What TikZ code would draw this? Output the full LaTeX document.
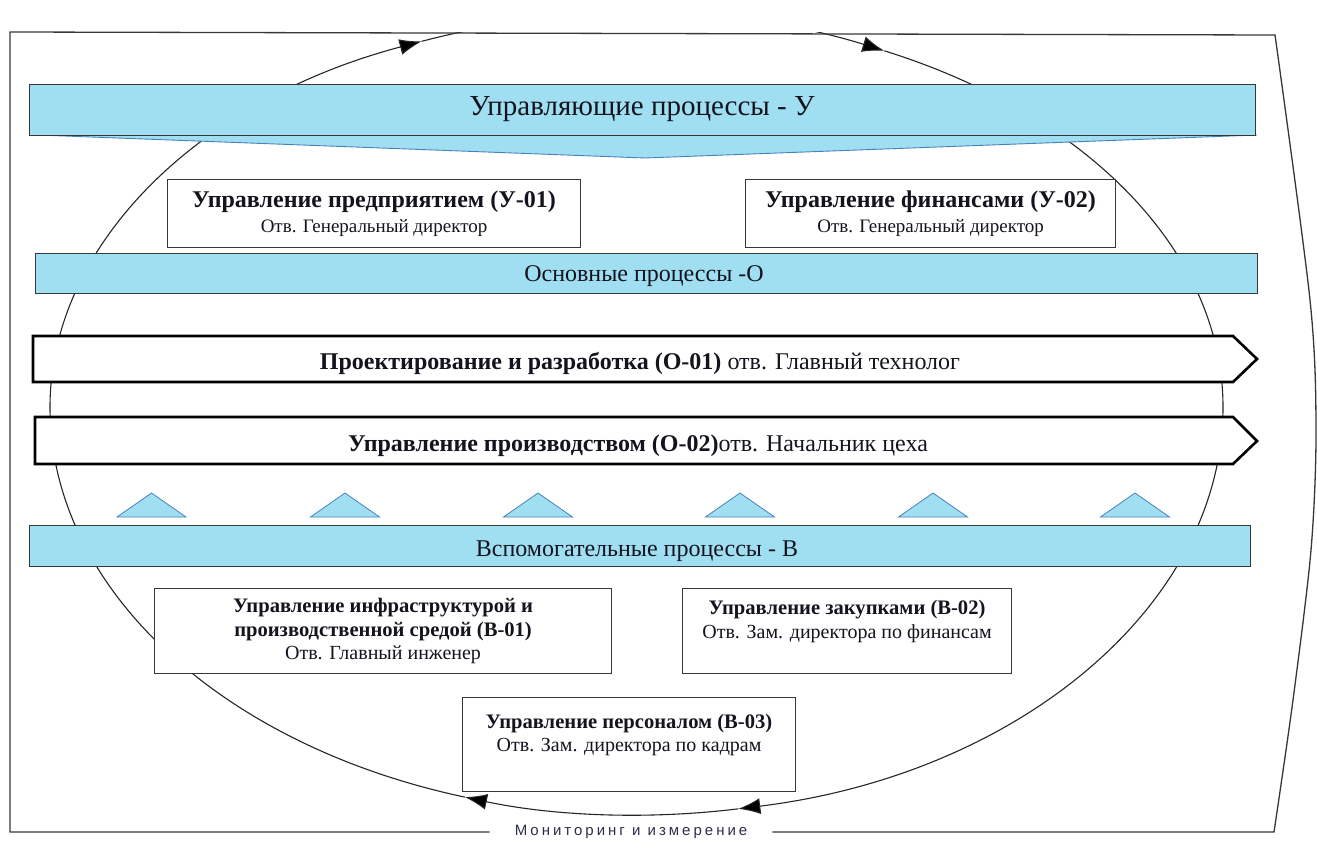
\documentclass[tikz,border=0pt]{standalone}
\usepackage{fontspec}
\setmainfont{Liberation Serif}
\newfontfamily\labelsans[LetterSpace=20]{Liberation Sans}
\usetikzlibrary{arrows.meta}
\definecolor{barblue}{RGB}{160,222,242}
\definecolor{edgeblue}{RGB}{70,130,190}
\definecolor{framegray}{RGB}{55,55,55}
\definecolor{labelink}{RGB}{45,47,72}
\definecolor{inktext}{RGB}{20,20,30}
\tikzset{
  bar/.style={draw=framegray, line width=1.1pt, fill=barblue, inner sep=0pt, anchor=north west},
  chev/.style={draw=edgeblue, line width=0.9pt, fill=barblue},
  procbox/.style={draw=framegray, line width=1.1pt, fill=white, inner sep=0pt, anchor=north west, align=center, text=inktext},
  flow/.style={draw=black, line width=2.6pt, fill=white, line join=miter},
  tri/.style={draw=edgeblue, line width=0.8pt, fill=barblue, line join=miter},
  cycline/.style={draw=black!85, line width=1.1pt},
  cyc/.style={cycline, -{Latex[length=22pt,width=16pt,fill=black]}},
  frameline/.style={draw=framegray, line width=1.3pt},
  titlefont/.style={font=\fontsize{29}{34}\selectfont, text=inktext},
  barfont/.style={font=\fontsize{24}{28}\selectfont, text=inktext},
  flowfont/.style={font=\fontsize{24}{28}\selectfont, text=inktext},
  topboxfont/.style={font=\fontsize{24}{25}\selectfont},
  lowboxfont/.style={font=\fontsize{20}{23.5}\selectfont},
}
\newcommand{\respfont}{\fontsize{19}{25}\selectfont}
\newcommand{\headfont}{\fontsize{20.6}{23.5}\selectfont\bfseries}
\begin{document}
\begin{tikzpicture}[x=1pt,y=-1pt]
\useasboundingbox (0,0) rectangle (1317,842);

% cycle of processes (clockwise), hidden above the frame
\begin{scope}[shift={(636.5,407)}]
  \clip (-700,-374) rectangle (700,500);
  \draw[cyc] (180:586.5 and 393) arc[start angle=180, end angle=248.5, x radius=586.5, y radius=393];
  \draw[cyc] (248.5:586.5 and 393) arc[start angle=248.5, end angle=295, x radius=586.5, y radius=393];
  \draw[cycline] (295:586.5 and 393) arc[start angle=295, end angle=360, x radius=586.5, y radius=393];
  \draw[cyc] (0:586.5 and 408) arc[start angle=0, end angle=80, x radius=586.5, y radius=408];
  \draw[cyc] (80:586.5 and 408) arc[start angle=80, end angle=107, x radius=586.5, y radius=408];
  \draw[cycline] (107:586.5 and 408) arc[start angle=107, end angle=180, x radius=586.5, y radius=408];
\end{scope}

% management processes
\draw[chev] (38,135) -- (645,158) -- (1257,135) -- cycle;
\node[bar, minimum width=1226pt, minimum height=51pt] (ubar) at (29,84) {};
\node[titlefont, anchor=base] (utext) at (642,116) {Управляющие процессы - У};

\node[procbox, topboxfont, minimum width=413pt, minimum height=68pt] (u1) at (167,179)
  {\textbf{Управление предприятием (У-01)}\\{\respfont Отв. Генеральный директор}};
\node[procbox, topboxfont, minimum width=370pt, minimum height=68pt] (u2) at (745,179)
  {\textbf{Управление финансами (У-02)}\\{\respfont Отв. Генеральный директор}};

% main processes
\node[bar, minimum width=1222pt, minimum height=40pt] (obar) at (35,253) {};
\node[barfont, anchor=base] (otext) at (644,282) {Основные процессы -О};

\draw[flow] (33,336) -- (1233,336) -- (1257,359) -- (1233,382) -- (33,382) -- cycle;
\node[flowfont, anchor=base] (o1) at (640,369)
  {\textbf{Проектирование и разработка (О-01)} отв. Главный технолог};
\draw[flow] (35,417) -- (1233,417) -- (1257,441) -- (1233,464) -- (35,464) -- cycle;
\node[flowfont, anchor=base] (o2) at (638,451)
  {\textbf{Управление производством (О-02)}отв. Начальник цеха};

% support flows up into the main processes
\foreach \c in {151.5,345,538,740,933,1135}
  \draw[tri] (\c-34.5,517) -- (\c,493) -- (\c+34.5,517) -- cycle;

% support processes
\node[bar, minimum width=1221pt, minimum height=41pt] (vbar) at (29,525) {};
\node[barfont, anchor=base] (vtext) at (637,556) {Вспомогательные процессы - В};

\node[procbox, lowboxfont, minimum width=457pt, minimum height=85pt] (v1) at (154,588)
  {{\headfont Управление инфраструктурой и}\\{\headfont производственной средой (В-01)}\\Отв. Главный инженер};
\node[procbox, lowboxfont, minimum width=329pt, minimum height=85pt] (v2) at (682,588)
  {{\headfont Управление закупками (В-02)}\\Отв. Зам. директора по финансам\\\mbox{}};
\node[procbox, lowboxfont, minimum width=333pt, minimum height=94pt] (v3) at (462,697)
  {{\headfont Управление персоналом (В-03)}\\Отв. Зам. директора по кадрам\\\mbox{}};

% monitoring frame
\node[font=\labelsans\fontsize{15}{17}\selectfont, text=labelink, inner xsep=25pt, inner ysep=2pt] (mon) at (631,832)
  {Мониторинг и измерение};
\draw[frameline] (mon.west) -- (10,832) -- (10,32) -- (1275,35)
  -- plot[smooth, tension=0.5] coordinates {(1275,35) (1310,300) (1316,430) (1311,550) (1293,700) (1274,832)}
  -- (mon.east);
\end{tikzpicture}
\end{document}
